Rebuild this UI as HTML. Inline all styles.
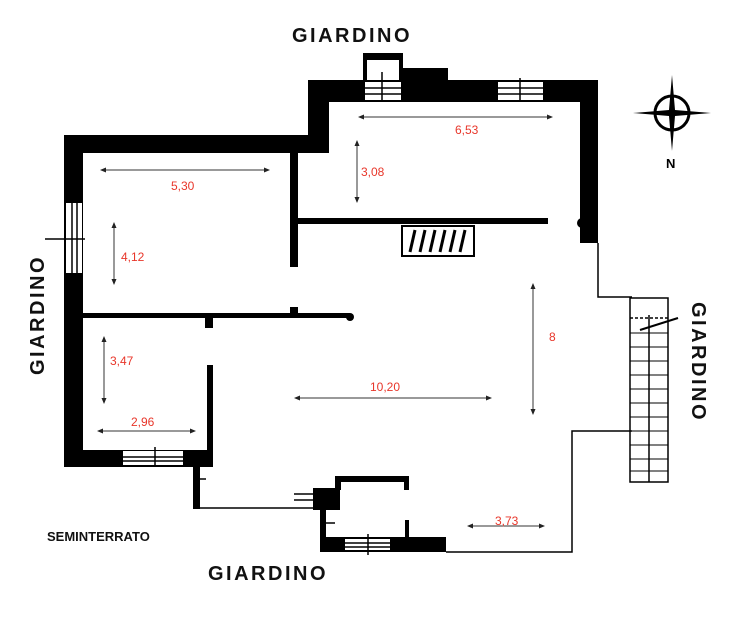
<!DOCTYPE html>
<html><head><meta charset="utf-8"><style>
html,body{margin:0;padding:0;background:#fff;width:738px;height:624px;overflow:hidden}
svg{display:block}
.g{font-family:"Liberation Sans",sans-serif;font-size:20px;font-weight:bold;fill:#111;letter-spacing:2.5px}
.r{font-family:"Liberation Sans",sans-serif;font-size:12px;fill:#e8362a}
</style></head><body>
<svg width="738" height="624" viewBox="0 0 738 624">
<defs><marker id="a" markerWidth="6" markerHeight="6" refX="5" refY="3" orient="auto-start-reverse"><path d="M0,0.5 L6,3 L0,5.5z" fill="#222"/></marker></defs>
<g fill="#000">
<rect x="64" y="135" width="19" height="332"/>
<rect x="64" y="135" width="265" height="18"/>
<rect x="308" y="80" width="21" height="73"/>
<rect x="308" y="80" width="290" height="22"/>
<rect x="580" y="80" width="18" height="163"/>
<rect x="64" y="450" width="149" height="17"/>
<rect x="207" y="365" width="6" height="102"/>
<rect x="290" y="153" width="8" height="114"/>
<rect x="298" y="218" width="250" height="6"/>
<rect x="83" y="313" width="267" height="5"/>
<rect x="205" y="313" width="8" height="15"/>
<rect x="290" y="307" width="8" height="10"/>
<circle cx="350" cy="317" r="4"/>
<circle cx="582" cy="223" r="5"/>
<rect x="363" y="53" width="40" height="27"/>
<rect x="403" y="68" width="45" height="14"/>
<rect x="193" y="453" width="7" height="56"/>
<rect x="313" y="488" width="27" height="22"/>
<rect x="335" y="476" width="73" height="6"/>
<rect x="335" y="476" width="6" height="14"/>
<rect x="404" y="476" width="5" height="14"/>
<rect x="320" y="508" width="6" height="44"/>
<rect x="320" y="537" width="126" height="15"/>
<rect x="405" y="520" width="4" height="20"/>
</g>
<g fill="#fff">
<rect x="367" y="60" width="32" height="20"/>
<rect x="365" y="82" width="36" height="18"/>
<rect x="498" y="82" width="45" height="18"/>
<rect x="66" y="203" width="16" height="70"/>
<rect x="123" y="451" width="60" height="14"/>
<rect x="345" y="539" width="45" height="11"/>
<rect x="294" y="490" width="19" height="14"/>
</g>
<g stroke="#000" stroke-width="1.5" fill="none">
<line x1="365" y1="88" x2="401" y2="88"/><line x1="365" y1="94" x2="401" y2="94"/>
<line x1="498" y1="88" x2="543" y2="88"/><line x1="498" y1="94" x2="543" y2="94"/>
<line x1="382" y1="72" x2="382" y2="102"/><line x1="520" y1="78" x2="520" y2="102"/>
<line x1="72" y1="203" x2="72" y2="273"/><line x1="77" y1="203" x2="77" y2="273"/>
<line x1="45" y1="239" x2="85" y2="239"/>
<line x1="123" y1="457" x2="183" y2="457"/><line x1="123" y1="461" x2="183" y2="461"/>
<line x1="155" y1="447" x2="155" y2="467"/>
<line x1="345" y1="543" x2="390" y2="543"/><line x1="345" y1="547" x2="390" y2="547"/>
<line x1="368" y1="534" x2="368" y2="555"/>
<line x1="294" y1="494" x2="313" y2="494"/><line x1="294" y1="500" x2="313" y2="500"/>
<line x1="196" y1="479" x2="206" y2="479"/><line x1="323" y1="523" x2="335" y2="523"/>
<polyline points="598,243 598,297 632,297"/>
<polyline points="200,508 320,508"/>
<polyline points="446,552 572,552 572,431 632,431"/>
<rect x="630" y="298" width="38" height="184"/>
<line x1="649" y1="315" x2="649" y2="482"/>
<line x1="630" y1="318" x2="668" y2="318" stroke-dasharray="3,2"/>
</g>
<g stroke="#000" stroke-width="1">
<line x1="630" y1="333" x2="668" y2="333"/><line x1="630" y1="347" x2="668" y2="347"/>
<line x1="630" y1="361" x2="668" y2="361"/><line x1="630" y1="375" x2="668" y2="375"/>
<line x1="630" y1="389" x2="668" y2="389"/><line x1="630" y1="403" x2="668" y2="403"/>
<line x1="630" y1="417" x2="668" y2="417"/><line x1="630" y1="431" x2="668" y2="431"/>
<line x1="630" y1="445" x2="668" y2="445"/><line x1="630" y1="459" x2="668" y2="459"/>
<line x1="630" y1="471" x2="668" y2="471"/>
<line x1="640" y1="330" x2="678" y2="318" stroke-width="2"/>
</g>
<rect x="402" y="226" width="72" height="30" fill="#fff" stroke="#000" stroke-width="2"/>
<g stroke="#000" stroke-width="3">
<line x1="410" y1="252" x2="415" y2="230"/><line x1="420" y1="252" x2="425" y2="230"/><line x1="430" y1="252" x2="435" y2="230"/>
<line x1="440" y1="252" x2="445" y2="230"/><line x1="450" y1="252" x2="455" y2="230"/><line x1="460" y1="252" x2="465" y2="230"/>
</g>
<g stroke="#333" stroke-width="1" marker-start="url(#a)" marker-end="url(#a)">
<line x1="101" y1="170" x2="269" y2="170"/>
<line x1="114" y1="223" x2="114" y2="284"/>
<line x1="104" y1="337" x2="104" y2="403"/>
<line x1="98" y1="431" x2="195" y2="431"/>
<line x1="357" y1="141" x2="357" y2="202"/>
<line x1="359" y1="117" x2="552" y2="117"/>
<line x1="295" y1="398" x2="491" y2="398"/>
<line x1="533" y1="284" x2="533" y2="414"/>
<line x1="468" y1="526" x2="544" y2="526"/>
</g>
<text class="r" x="171" y="190">5,30</text>
<text class="r" x="121" y="261">4,12</text>
<text class="r" x="110" y="365">3,47</text>
<text class="r" x="131" y="426">2,96</text>
<text class="r" x="361" y="176">3,08</text>
<text class="r" x="455" y="134">6,53</text>
<text class="r" x="370" y="391">10,20</text>
<text class="r" x="549" y="341">8</text>
<text class="r" x="495" y="525">3,73</text>
<text class="g" x="292" y="42">GIARDINO</text>
<text class="g" x="208" y="580">GIARDINO</text>
<text class="g" transform="translate(44,375) rotate(-90)">GIARDINO</text>
<text class="g" transform="translate(692,302) rotate(90)">GIARDINO</text>
<text x="47" y="541" font-family="Liberation Sans,sans-serif" font-size="13" font-weight="bold" fill="#111">SEMINTERRATO</text>
<circle cx="672" cy="113" r="17" fill="none" stroke="#000" stroke-width="3"/>
<path d="M672,75 L675,110 L711,113 L675,116 L672,151 L669,116 L633,113 L669,110z" fill="#000"/>
<text x="666" y="168" font-family="Liberation Sans,sans-serif" font-size="13" font-weight="bold">N</text>
</svg>
</body></html>
